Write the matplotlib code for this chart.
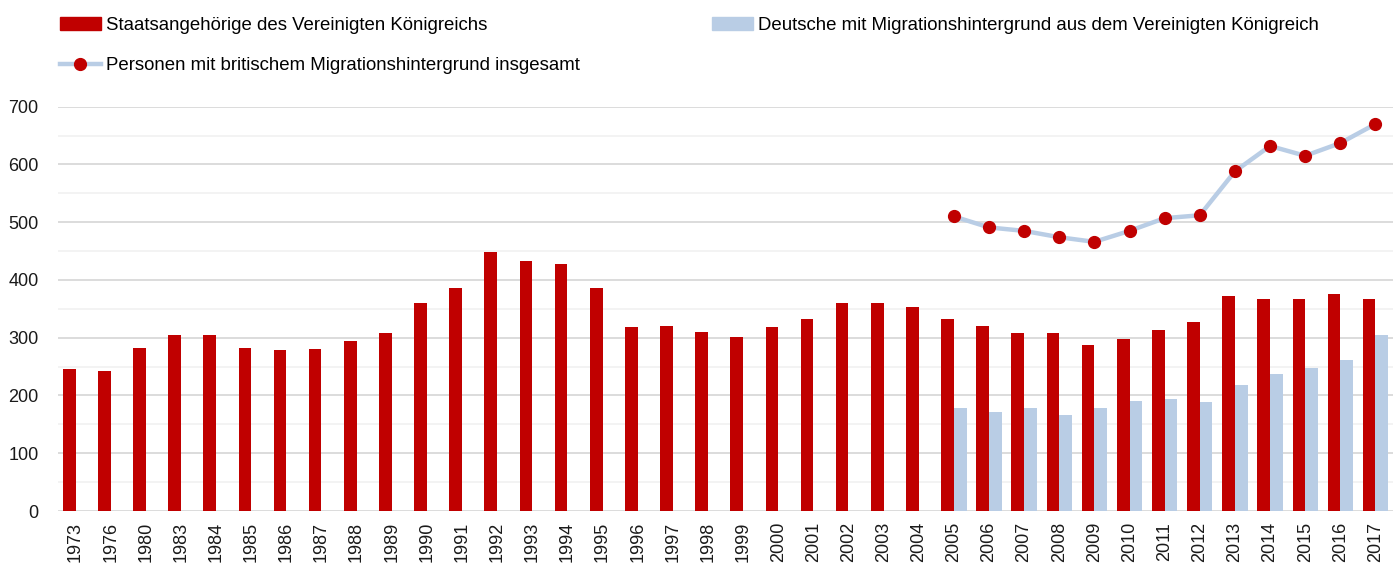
import matplotlib
matplotlib.use("Agg")
import matplotlib.pyplot as plt
from matplotlib.patches import Patch
from matplotlib.lines import Line2D
import numpy as np

years = ["1973", "1976", "1980"] + [str(y) for y in range(1983, 2018)]
staats = [245, 242, 283, 305, 305, 283, 278, 280, 294, 308, 360, 386,
          448, 432, 427, 386, 318, 321, 310, 302, 318, 332, 360, 360, 354,
          332, 321, 308, 308, 288, 297, 313, 327, 372, 367, 367, 376, 367]
deutsche_years = [str(y) for y in range(2005, 2018)]
deutsche = [178, 172, 178, 166, 178, 191, 194, 188, 218, 237, 248, 261, 305]
gesamt = [510, 491, 485, 474, 466, 485, 507, 512, 588, 632, 615, 637, 670]

RED = "#c00000"
BLUE = "#b9cde5"

plt.rcParams['font.family'] = ['Liberation Sans', 'DejaVu Sans']

fig = plt.figure(figsize=(14, 5.65), dpi=100)
ax = fig.add_axes([58/1400, 1 - 511/565, (1393-58)/1400, (511-106.7)/565])

x = np.arange(len(years))
w = 0.36
ax.bar(x - w/2, staats, width=w, color=RED, zorder=3)
xd = np.array([years.index(y) for y in deutsche_years])
ax.bar(xd + w/2, deutsche, width=w, color=BLUE, zorder=3)
ax.plot(xd, gesamt, color=BLUE, lw=3.2, marker='o', markersize=8.5,
        markerfacecolor=RED, markeredgecolor=RED, zorder=4, clip_on=False)

ax.set_xlim(-0.5, len(years) - 0.5)
ax.set_ylim(0, 700)
ax.set_yticks(np.arange(0, 701, 100))
ax.set_yticks(np.arange(50, 701, 100), minor=True)
ax.yaxis.grid(True, which='major', color='#d9d9d9', lw=1.3, zorder=0)
ax.yaxis.grid(True, which='minor', color='#f2f2f2', lw=1.3, zorder=0)
ax.set_xticks(x)
ax.set_xticklabels(years, rotation=90, fontsize=13, color='#1a1a1a')
ax.tick_params(axis='y', labelsize=13, labelcolor='#1a1a1a', length=0, pad=14)
ax.tick_params(axis='x', length=0, pad=8)
ax.tick_params(axis='y', which='minor', length=0)
for s in ax.spines.values():
    s.set_visible(False)

handles = [Patch(color=RED),
           Line2D([], [], color=BLUE, lw=3.2, marker='o', markersize=8.5,
                  markerfacecolor=RED, markeredgecolor=RED),
           Patch(color=BLUE)]
labels = ["Staatsangehörige des Vereinigten Königreichs",
          "Personen mit britischem Migrationshintergrund insgesamt",
          "Deutsche mit Migrationshintergrund aus dem Vereinigten Königreich"]
fig.legend(handles, labels, loc='upper left', bbox_to_anchor=(60/1400, 1 - 17/565),
           ncol=2, frameon=False, fontsize=13.4, handlelength=2.2, handleheight=0.65,
           handletextpad=0.25, columnspacing=7.13, labelspacing=1.23,
           borderpad=0.0, borderaxespad=0)

fig.savefig("out.png", dpi=100)
